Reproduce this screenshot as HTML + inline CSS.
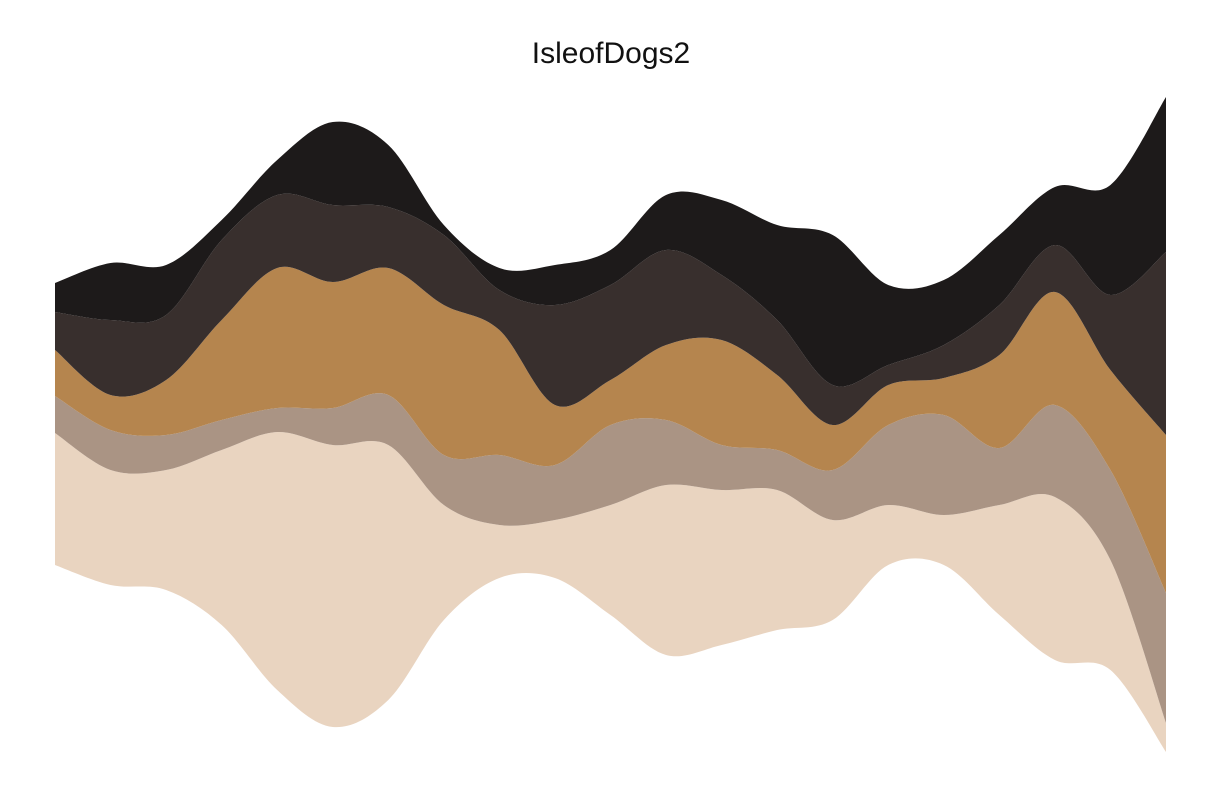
<!DOCTYPE html>
<html><head><meta charset="utf-8"><style>
html,body{margin:0;padding:0;background:#fff;}
svg{display:block;}
</style></head><body>
<svg id="chart" width="1213" height="808">
<text x="611" y="63" text-anchor="middle" font-family="Liberation Sans, sans-serif" font-size="30" fill="#111">IsleofDogs2</text>
<g id="layers"></g>
</svg>
<script>
const xIndex = [0,1,2,3,4,5,6,7,8,9,10,11,12,13,14,15,16,17,18,19,20];
const baseline = [243,223,218,183,118,81,108,188,230,230,193,153,163,178,188,243,243,193,148,138,56];
const beige  = [132,115,120,175,258,282,255,115,53,58,110,170,155,140,100,60,50,110,163,110,29];
const greige = [37,40,35,30,24,37,50,50,70,55,80,65,45,40,50,80,100,57,92,90,130];
const tan    = [46,35,55,100,140,126,127,150,125,60,45,75,105,75,45,40,37,93,113,100,158];
const dark   = [38,75,65,80,73,77,61,70,40,100,95,95,65,55,40,20,33,50,47,75,183];
const black  = [29,57,50,20,35,83,62,10,22,40,35,55,75,95,150,80,65,70,58,110,155];
const seriesNames = ['beige','greige','tan','dark','black'];
const colors = ['#E9D4C0','#AA9484','#B5854E','#382F2D','#1D1A1A'];

const series = [beige,greige,tan,dark,black];
const x0=55,x1=1166;
function xScale(i){return x0+(x1-x0)*i/(xIndex.length-1);}
function yScale(v){return 808-v;}
function smooth(pts){
  let d='';
  for(let i=0;i<pts.length-1;i++){
    const p0=pts[Math.max(0,i-1)],p1=pts[i],p2=pts[i+1],p3=pts[Math.min(pts.length-1,i+2)];
    const c1=[p1[0]+(p2[0]-p0[0])/6,p1[1]+(p2[1]-p0[1])/6];
    const c2=[p2[0]-(p3[0]-p1[0])/6,p2[1]-(p3[1]-p1[1])/6];
    d+=` C${c1[0]},${c1[1]} ${c2[0]},${c2[1]} ${p2[0]},${p2[1]}`;
  }
  return d;
}
const g=document.getElementById('layers');
let lower=baseline.slice();
series.forEach((s,k)=>{
  const upper=lower.map((b,i)=>b+s[i]);
  const top=xIndex.map(i=>[xScale(i),yScale(upper[i])]);
  const bot=xIndex.map(i=>[xScale(i),yScale(lower[i])]).reverse();
  let d=`M${top[0][0]},${top[0][1]}`+smooth(top)+` L${bot[0][0]},${bot[0][1]}`+smooth(bot)+'Z';
  const p=document.createElementNS('http://www.w3.org/2000/svg','path');
  p.setAttribute('d',d);
  p.setAttribute('fill',colors[k]);
  
  
  g.appendChild(p);
  lower=upper;
});
</script>
</body></html>
